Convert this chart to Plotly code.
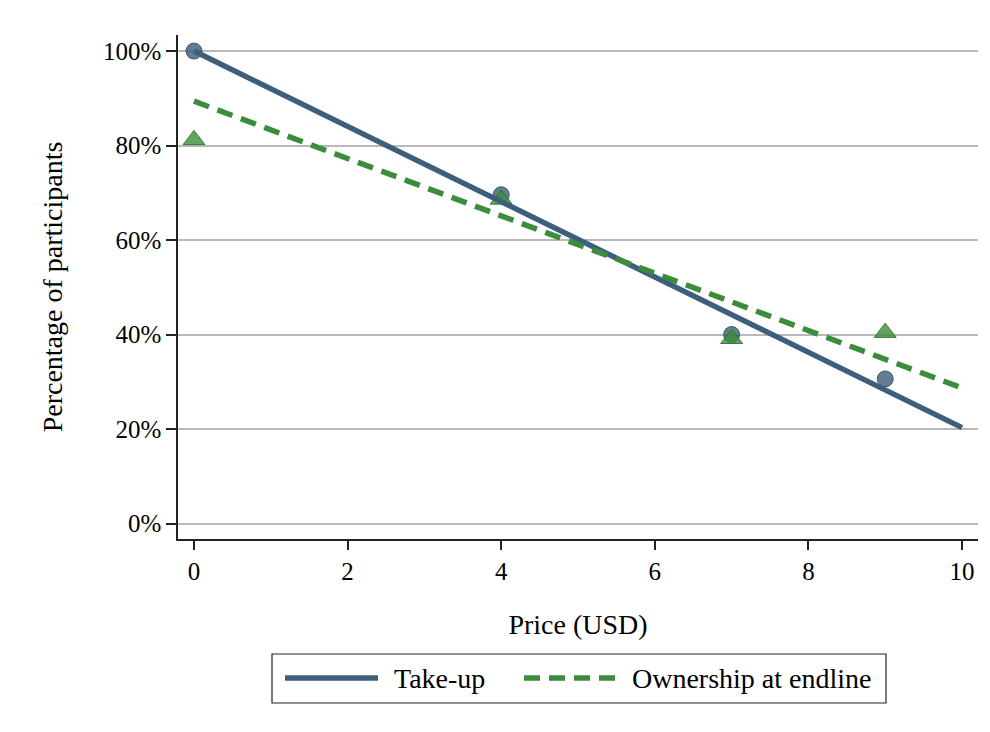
import plotly.graph_objects as go

# Data
price = [0, 4, 7, 9]
takeup = [100.0, 69.6, 40.0, 30.6]
ownership = [81.2, 68.6, 39.1, 40.4]

fit_x = [0, 10]
takeup_fit = [100.0, 20.3]
ownership_fit = [89.4, 28.7]

x_ticks = [0, 2, 4, 6, 8, 10]
y_ticks = [0, 20, 40, 60, 80, 100]
y_tick_labels = [f"{v}%" for v in y_ticks]

BLUE = "#3e5f7b"
GREEN = "#3b8c3b"
FONT = "Liberation Serif"

fig = go.Figure()

fig.add_trace(go.Scatter(
    x=price, y=takeup, mode="markers",
    marker=dict(symbol="circle", size=16, color="rgba(62,95,123,0.82)",
                line=dict(color="rgba(50,80,105,0.9)", width=1)),
    showlegend=False, hoverinfo="skip"))
fig.add_trace(go.Scatter(
    x=price, y=ownership, mode="markers",
    marker=dict(symbol="triangle-up", size=19, color="rgba(59,140,59,0.8)",
                line=dict(color="rgba(40,115,40,0.9)", width=1)),
    showlegend=False, hoverinfo="skip"))
fig.add_trace(go.Scatter(
    x=fit_x, y=takeup_fit, mode="lines",
    line=dict(color=BLUE, width=5.5), name="Take-up", showlegend=False))
fig.add_trace(go.Scatter(
    x=fit_x, y=ownership_fit, mode="lines",
    line=dict(color=GREEN, width=5.5, dash="16px,9px"),
    name="Ownership at endline", showlegend=False))

# page has an 8px body margin; figure coordinates are offset by it
OFF = 8
W, H = 990 - OFF, 732 - OFF
L, R = 178 - OFF, 990 - 978
T = 35 - OFF
B = H - (539 - OFF)
pw, ph = W - L - R, H - T - B


def px2x(px):
    return (px - OFF - L) / pw


def px2y(py):
    return (H - B - (py - OFF)) / ph


shapes = [
    dict(type="rect", xref="paper", yref="paper",
         x0=px2x(272), x1=px2x(886), y0=px2y(703), y1=px2y(654),
         line=dict(color="#222222", width=1.2), fillcolor="white"),
    dict(type="line", xref="paper", yref="paper",
         x0=px2x(285), x1=px2x(378), y0=px2y(678), y1=px2y(678),
         line=dict(color=BLUE, width=5.5)),
    dict(type="line", xref="paper", yref="paper",
         x0=px2x(524), x1=px2x(619), y0=px2y(678), y1=px2y(678),
         line=dict(color=GREEN, width=5.5, dash="16px,9px")),
]
annotations = [
    dict(text="Take-up", xref="paper", yref="paper", x=px2x(392), y=px2y(678),
         xanchor="left", yanchor="middle", showarrow=False,
         font=dict(family=FONT, size=28, color="black")),
    dict(text="Ownership at endline", xref="paper", yref="paper",
         x=px2x(630), y=px2y(678), xanchor="left", yanchor="middle",
         showarrow=False, font=dict(family=FONT, size=28, color="black")),
]

fig.update_layout(
    width=W, height=H,
    margin=dict(l=L, r=R, t=T, b=B, autoexpand=False),
    paper_bgcolor="white", plot_bgcolor="white",
    font=dict(family=FONT, color="black"),
    shapes=shapes, annotations=annotations,
)
fig.update_xaxes(
    range=[-0.208, 10.208], tickvals=x_ticks, ticktext=[str(v) for v in x_ticks],
    showgrid=False, zeroline=False, showline=True, linecolor="#222222", linewidth=1.5,
    ticks="outside", ticklen=9, tickwidth=1.5, tickcolor="#222222",
    tickfont=dict(family=FONT, size=25),
    title=dict(text="Price (USD)", font=dict(family=FONT, size=28), standoff=31),
)
fig.update_yaxes(
    range=[-3.28, 103.4], tickvals=y_ticks, ticktext=y_tick_labels,
    showgrid=True, gridcolor="#b9b9b9", gridwidth=1.5, zeroline=False,
    showline=True, linecolor="#222222", linewidth=1.5,
    ticks="outside", ticklen=10, tickwidth=1.5, tickcolor="#222222",
    tickfont=dict(family=FONT, size=25),
    title=dict(text="Percentage of participants", font=dict(family=FONT, size=28), standoff=32),
)

fig.write_html("out.html")
